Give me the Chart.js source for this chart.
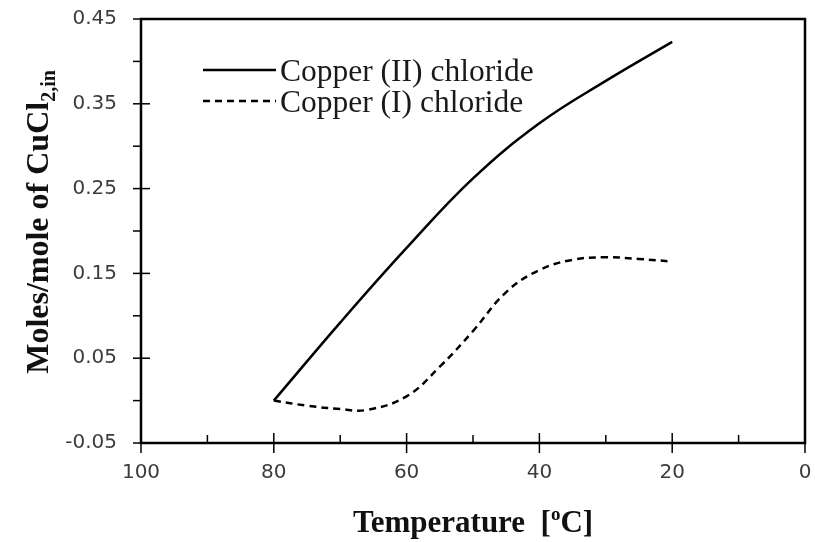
<!DOCTYPE html>
<html>
<head>
<meta charset="utf-8">
<script src="https://cdn.jsdelivr.net/npm/chart.js@4.4.0/dist/chart.umd.min.js"></script>
<style>
  html,body{margin:0;padding:0;background:#fff;}
  #wrap{width:815px;height:542px;}
</style>
</head>
<body>
<div id="wrap"><canvas id="c" width="815" height="542"></canvas></div>
<script>
// temperatures [°C] and moles per mole of CuCl2 fed
const tempCuCl2 = [80, 70, 60, 50, 40, 30, 20];
const molesCuCl2 = [0.000, 0.092, 0.180, 0.262, 0.327, 0.377, 0.423];

const tempCuCl = [80, 75, 70, 66, 60, 55, 50, 45, 40, 35, 30, 25, 20];
const molesCuCl = [0.000, -0.006, -0.010, -0.011, 0.005, 0.040, 0.082, 0.128, 0.154, 0.166, 0.169, 0.167, 0.164];

const seriesNames = ["Copper (II) chloride", "Copper (I) chloride"];
const xTickLabels = [100, 80, 60, 40, 20, 0];
const yTickLabels = [-0.05, 0.05, 0.15, 0.25, 0.35, 0.45];

const pts = (xs, ys) => xs.map((x, i) => ({x, y: ys[i]}));

const TICK_FONT = "DejaVu Sans";
const SERIF = "'Liberation Serif', 'Times New Roman', serif";

// frame, tick marks, legend and axis titles
const decor = {
  id: "decor",
  afterDraw(chart){
    const {ctx, chartArea: a, scales: {x, y}} = chart;
    ctx.save();
    ctx.strokeStyle = "#000";
    ctx.lineWidth = 2.5;
    ctx.strokeRect(a.left, a.top, a.right - a.left, a.bottom - a.top);

    const seg = (x1, y1, x2, y2) => { ctx.beginPath(); ctx.moveTo(x1, y1); ctx.lineTo(x2, y2); ctx.stroke(); };
    ctx.lineWidth = 1.5;
    y.ticks.forEach(t => {
      const py = y.getPixelForValue(t.value);
      const major = yTickLabels.some(v => Math.abs(v - t.value) < 1e-6);
      seg(a.left - 8, py, major ? a.left + 9 : a.left, py);
    });
    x.ticks.forEach(t => {
      const px = x.getPixelForValue(t.value);
      const major = xTickLabels.includes(Math.round(t.value));
      if(major) seg(px, a.bottom - 10, px, a.bottom + 10);
      else seg(px, a.bottom - 8, px, a.bottom);
    });

    // legend
    const ds = chart.data.datasets;
    ds.forEach((d, i) => {
      const ly = 70 + i * 31;
      ctx.strokeStyle = d.borderColor;
      ctx.lineWidth = d.borderWidth;
      ctx.setLineDash(d.borderDash || []);
      seg(203, ly, 276, ly);
      ctx.setLineDash([]);
      ctx.fillStyle = "#1a1a1a";
      ctx.font = "31.5px " + SERIF;
      ctx.textBaseline = "alphabetic";
      ctx.textAlign = "left";
      ctx.fillText(d.label, 280, ly + 11);
    });

    // x title with superscript o
    ctx.fillStyle = "#111";
    ctx.textBaseline = "alphabetic";
    const big = "bold 31px " + SERIF, small = "bold 19px " + SERIF;
    const parts = [["Temperature  [", big, 0], ["o", small, -12], ["C]", big, 0]];
    let w = 0;
    parts.forEach(p => { ctx.font = p[1]; w += ctx.measureText(p[0]).width; });
    let cx = (a.left + a.right) / 2 - w / 2;
    parts.forEach(p => { ctx.font = p[1]; ctx.fillText(p[0], cx, 532 + p[2]); cx += ctx.measureText(p[0]).width; });

    // y title with subscript 2,in
    ctx.save();
    ctx.translate(48, 222);
    ctx.rotate(-Math.PI / 2);
    const ybig = "bold 32px " + SERIF, ysmall = "bold 20px " + SERIF;
    const yparts = [["Moles/mole of CuCl", ybig, 0], ["2,in", ysmall, 7]];
    w = 0;
    yparts.forEach(p => { ctx.font = p[1]; w += ctx.measureText(p[0]).width; });
    cx = -w / 2;
    yparts.forEach(p => { ctx.font = p[1]; ctx.fillText(p[0], cx, p[2]); cx += ctx.measureText(p[0]).width; });
    ctx.restore();

    ctx.restore();
  }
};

new Chart(document.getElementById("c"), {
  type: "line",
  data: {
    datasets: [
      {label: seriesNames[0], data: pts(tempCuCl2, molesCuCl2), borderColor: "#000", borderWidth: 2.5,
       pointRadius: 0, tension: 0.4, fill: false},
      {label: seriesNames[1], data: pts(tempCuCl, molesCuCl), borderColor: "#000", borderWidth: 2.5,
       borderDash: [7, 5], pointRadius: 0, tension: 0.4, fill: false}
    ]
  },
  options: {
    responsive: false,
    animation: false,
    layout: {padding: {left: 0, right: 10, top: 19, bottom: 0}},
    plugins: {legend: {display: false}, tooltip: {enabled: false}},
    scales: {
      x: {
        type: "linear", reverse: true, min: 0, max: 100,
        grid: {display: false}, border: {display: false},
        ticks: {
          stepSize: 10, padding: 10, color: "#3c3c3c", maxRotation: 0, autoSkip: false,
          font: {family: TICK_FONT, size: 20},
          callback: v => xTickLabels.includes(Math.round(v)) ? String(Math.round(v)) : ""
        },
        afterFit: s => { s.height = 542 - 443; s.paddingLeft = 0; s.paddingRight = 0; }
      },
      y: {
        min: -0.05, max: 0.45,
        grid: {display: false}, border: {display: false},
        ticks: {
          stepSize: 0.05, padding: 16, color: "#3c3c3c", autoSkip: false,
          font: {family: TICK_FONT, size: 20},
          callback: v => yTickLabels.some(t => Math.abs(t - v) < 1e-6) ? v.toFixed(2) : ""
        },
        afterFit: s => { s.width = 141; s.paddingTop = 0; s.paddingBottom = 0; }
      }
    }
  },
  plugins: [decor]
});
</script>
</body>
</html>
